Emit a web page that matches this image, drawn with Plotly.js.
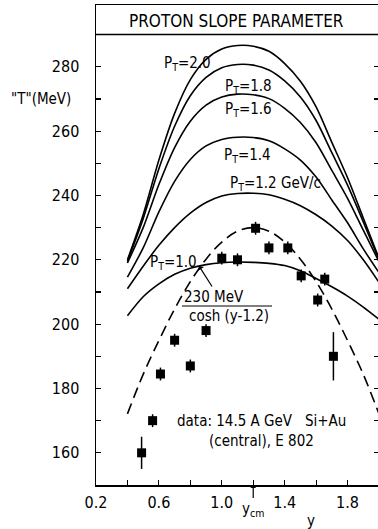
<!DOCTYPE html>
<html>
<head>
<meta charset="utf-8">
<script src="https://cdn.plot.ly/plotly-3.0.1.min.js"></script>
<style>
html,body{margin:0;padding:0;background:#fff;overflow:hidden;}
#chart{width:380px;height:529px;}
</style>
</head>
<body>
<div id="chart"></div>
<script>
// rapidity grid for the model curves
const rapidity = [0.4,0.5,0.6,0.7,0.8,0.9,1.0,1.1,1.2,1.3,1.4,1.5,1.6,1.7,1.8,1.9,2.0];
const pt20 = [220,234,251,265.5,276,282.3,285.5,286.6,286.4,284.8,281,275.5,267.5,256.5,245.5,233,220.5];
const pt18 = [219.5,232.8,248.3,261.5,271,276.7,279.7,280.7,280.5,279,275.6,270.6,263.3,253.3,243.2,231.8,220];
const pt16 = [219,230,243.4,254.9,263.1,268.1,270.6,271.5,271.3,270.1,267.1,262.7,256.4,247.8,239.1,229.2,219.4];
const pt14 = [214.6,223.7,234.9,244.4,251.2,255.4,257.4,258.1,258.0,257,254.5,251,245.7,238.6,231.5,223.4,216];
const pt12 = [211,218,224.5,230,234.5,237.8,239.8,240.6,240.7,240.2,238.8,236.8,234,230.5,226,220,213];
const pt10 = [202.6,208.5,212.5,215.5,217.4,218.5,219.1,219.3,219.2,218.9,218.2,216.6,214.2,211.6,208.7,205.3,201.5];
const coshCurve = [172.1,184.4,194.9,204.7,213.2,220.2,225.5,228.9,230,228.9,225.5,220.2,213.2,204.7,194.9,184.4,172.1];

// measured data points
const dataY = [0.49,0.56,0.61,0.70,0.80,0.90,1.00,1.10,1.215,1.30,1.42,1.505,1.61,1.655,1.71];
const dataT = [160,170,184.5,195,187,198,220.5,220,229.8,223.7,223.7,215,207.5,214,190];
const dataErr = [5,2,2,2,2,2,2,2,2,2,2,2,2,2,7.5];

const xTickVals = [0.2,0.4,0.6,0.8,1.0,1.2,1.4,1.6,1.8];
const xTickText = ['0.2','','0.6','','1.0','','1.4','','1.8'];
const yTickVals = [160,170,180,190,200,210,220,230,240,250,260,270,280];
const yTickText = ['160','','180','','200','','220','','240','','260','','280'];

const FONT = 'Liberation Sans Narrow, DejaVu Sans Condensed, Liberation Sans, Arial, sans-serif';
const L = 96, T0 = 5, B = 485, PW = 283, PH = 480;
const px2p = p => (p - L) / PW;
const py2p = p => (B - p) / PH;
const px2x = p => 0.2 + (p - L) / (PW / 1.8);
const py2y = p => 150 + (B - p) / (PH / 149.2);

const curveLine = {color:'#000', width:1.6, shape:'spline', smoothing:0.8};
function curve(y){ return {x:rapidity, y:y, mode:'lines', line:curveLine, hoverinfo:'skip', showlegend:false}; }

const traces = [
  curve(pt20), curve(pt18), curve(pt16), curve(pt14), curve(pt12), curve(pt10),
  {x:rapidity, y:coshCurve, mode:'lines', line:{color:'#000', width:1.6, dash:'11px,6px', shape:'spline'}, showlegend:false},
  {x:dataY, y:dataT, mode:'markers', marker:{symbol:'square', size:9, color:'#000'},
   error_y:{type:'data', array:dataErr, visible:true, thickness:1.5, width:0, color:'#000'}, showlegend:false}
];

function lab(text, px, py, size){
  return {text:text, x:px2p(px), y:py2p(py), xref:'paper', yref:'paper', showarrow:false,
          xanchor:'center', yanchor:'middle',
          font:{family:FONT, size:size||15, color:'#000'}};
}

const annotations = [
  lab('PROTON SLOPE PARAMETER', 236.5, 21, 17),
  lab('P<sub>T</sub>=2.0', 187, 63),
  lab('P<sub>T</sub>=1.8', 248, 87),
  lab('P<sub>T</sub>=1.6', 248, 109),
  lab('P<sub>T</sub>=1.4', 247, 155),
  lab('P<sub>T</sub>=1.2 GeV/c', 275, 183),
  lab('P<sub>T</sub>=1.0', 173, 262),
  lab('230 MeV', 214, 297),
  lab('cosh (y-1.2)', 229, 316),
  lab('data: 14.5 A GeV&nbsp;&nbsp;&nbsp;Si+Au', 261.5, 421),
  lab('(central), E 802', 261.5, 441),
  lab('"T"(MeV)', 41, 99),
  lab('y', 311, 521),
  {text:'', x:px2x(199), y:py2y(266), xref:'x', yref:'y', showarrow:true, ax:14, ay:22,
   arrowhead:1, arrowsize:1, arrowwidth:1.2, arrowcolor:'#000', standoff:0},
  {text:'y<sub>cm</sub>', x:1.2, y:150, xref:'x', yref:'y', showarrow:true, ax:0, ay:24,
   arrowhead:1, arrowsize:0.8, arrowwidth:1.2, arrowcolor:'#000', standoff:0, font:{family:FONT, size:15, color:'#000'}}
];

const layout = {
  width:380, height:529,
  margin:{l:L, r:1, t:T0, b:44},
  paper_bgcolor:'#fff', plot_bgcolor:'#fff',
  showlegend:false,
  font:{family:FONT, size:15, color:'#000'},
  xaxis:{range:[0.2,2.0], showgrid:false, zeroline:false, showline:true, linecolor:'#000', linewidth:1.5,
         mirror:true, ticks:'inside', ticklen:5, tickwidth:1.2, tickcolor:'#000',
         tickvals:xTickVals, ticktext:xTickText, tickfont:{family:FONT, size:16}, ticklabelstandoff:2},
  yaxis:{range:[150,299.2], showgrid:false, zeroline:false, showline:true, linecolor:'#000', linewidth:1.5,
         mirror:'ticks', ticks:'inside', ticklen:5, tickwidth:1.2, tickcolor:'#000',
         tickvals:yTickVals, ticktext:yTickText, tickfont:{family:FONT, size:16}, ticklabelstandoff:12},
  shapes:[
    {type:'line', xref:'paper', yref:'y', x0:0, x1:1, y0:290, y1:290, line:{color:'#000', width:1.5}},
    {type:'line', xref:'x', yref:'y', x0:px2x(182), x1:px2x(272), y0:py2y(306), y1:py2y(306), line:{color:'#000', width:1.2}}
  ],
  annotations:annotations
};

Plotly.newPlot('chart', traces, layout, {displayModeBar:false, staticPlot:true});
</script>
</body>
</html>
